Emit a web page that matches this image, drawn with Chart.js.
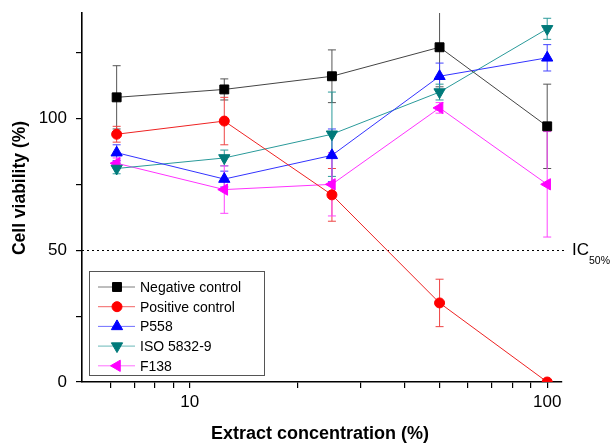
<!DOCTYPE html>
<html lang="en">
<head>
  <meta charset="UTF-8">
  <title>Cell viability</title>
  <script src="https://cdn.jsdelivr.net/npm/chart.js"></script>
  <style>
    html, body { margin: 0; padding: 0; background: #fff; }
    #wrap { width: 612px; height: 443px; }
  </style>
</head>
<body>
  <div id="wrap"><canvas id="viabilityChart"></canvas></div>
  <script>
    // extract concentration (%)
    const concentrations = [6.25, 12.5, 25, 50, 100];

    const negativeControl = [108, 111, 116, 127, 97];
    const negativeErr = [12, 4, 10, 15, 16];
    const positiveControl = [94, 99, 71, 30, 0];
    const positiveErr = [3, 9, 10, 9, 0];
    const p558 = [87, 77, 86, 116, 123];
    const p558Err = [3, 3, 10, 5, 5];
    const iso5832 = [81, 85, 94, 110, 134];
    const iso5832Err = [2, 3, 16, 3, 4];
    const f138 = [83, 73, 75, 104, 75];
    const f138Err = [2, 9, 12, 2, 20];

    const xTicks = [6, 7, 8, 9, 10, 20, 30, 40, 50, 60, 70, 80, 90, 100];
    const xLabels = [10, 100];
    const yTicks = [0, 25, 50, 75, 100, 125];
    const yLabels = [0, 50, 100];
    const icLevel = 50;

    const FONT = "'Liberation Sans', Arial, Helvetica, sans-serif";

    function series(label, values, errs, color, lineColor, errColor, style, rotation, radius) {
      return {
        label: label,
        data: concentrations.map((x, i) => ({ x: x, y: values[i] })),
        errs: errs,
        errColor: errColor,
        borderColor: lineColor,
        backgroundColor: color,
        pointBackgroundColor: color,
        pointBorderColor: color,
        pointStyle: style,
        rotation: rotation,
        pointRadius: radius,
        pointHoverRadius: radius,
        borderWidth: 1,
        tension: 0
      };
    }

    const datasets = [
      series('Negative control', negativeControl, negativeErr, '#000000', '#444444', '#555555', 'rect', 0, 6.3),
      series('Positive control', positiveControl, positiveErr, '#ff0000', '#ee2222', '#ee4444', 'circle', 0, 5),
      series('P558', p558, p558Err, '#0000ff', '#3333ff', '#4444ff', 'triangle', 0, 6.5),
      series('ISO 5832-9', iso5832, iso5832Err, '#007a7a', '#2a9a9a', '#2a9a9a', 'triangle', 180, 6.5),
      series('F138', f138, f138Err, '#ff00ff', '#ff33ff', '#ff44ff', 'triangle', -90, 6.5)
    ];

    // error bars, drawn under the markers
    const errorBars = {
      id: 'errorBars',
      beforeDatasetsDraw(chart) {
        const { ctx, chartArea, scales } = chart;
        ctx.save();
        ctx.beginPath();
        ctx.rect(chartArea.left - 10, chartArea.top, chartArea.right - chartArea.left + 20, chartArea.bottom - chartArea.top);
        ctx.clip();
        chart.data.datasets.forEach(ds => {
          ctx.strokeStyle = ds.errColor;
          ctx.lineWidth = 1;
          ds.data.forEach((p, i) => {
            const e = ds.errs[i];
            if (!e) return;
            const x = scales.x.getPixelForValue(p.x);
            const yTop = scales.y.getPixelForValue(p.y + e);
            const yBot = scales.y.getPixelForValue(p.y - e);
            ctx.beginPath();
            ctx.moveTo(x, yTop); ctx.lineTo(x, yBot);
            ctx.moveTo(x - 4, yTop); ctx.lineTo(x + 4, yTop);
            ctx.moveTo(x - 4, yBot); ctx.lineTo(x + 4, yBot);
            ctx.stroke();
          });
        });
        ctx.restore();
      }
    };

    // IC50 dotted line and label
    const icLine = {
      id: 'icLine',
      beforeDatasetsDraw(chart) {
        const { ctx, chartArea, scales } = chart;
        const y = Math.round(scales.y.getPixelForValue(icLevel)) + 0.5;
        ctx.save();
        ctx.strokeStyle = '#000';
        ctx.lineWidth = 1;
        ctx.setLineDash([2, 3]);
        ctx.beginPath();
        ctx.moveTo(chartArea.left, y);
        ctx.lineTo(chartArea.right + 4, y);
        ctx.stroke();
        ctx.setLineDash([]);
        ctx.fillStyle = '#000';
        ctx.textBaseline = 'middle';
        ctx.font = '17px ' + FONT;
        ctx.fillText('IC', chartArea.right + 10, y);
        const w = ctx.measureText('IC').width;
        ctx.font = '10.5px ' + FONT;
        ctx.fillText('50%', chartArea.right + 10 + w, y + 11);
        ctx.restore();
      }
    };

    // axis titles placed where the original has them
    const axisTitles = {
      id: 'axisTitles',
      afterDraw(chart) {
        const { ctx } = chart;
        ctx.save();
        ctx.fillStyle = '#000';
        ctx.textAlign = 'center';
        ctx.textBaseline = 'middle';
        ctx.font = 'bold 18px ' + FONT;
        ctx.fillText('Extract concentration (%)', 320, 434);
        ctx.translate(20, 188);
        ctx.rotate(-Math.PI / 2);
        ctx.font = 'bold 17.5px ' + FONT;
        ctx.fillText('Cell viability (%)', 0, 0);
        ctx.restore();
      }
    };

    // legend box inside the plot
    const boxLegend = {
      id: 'boxLegend',
      afterDraw(chart) {
        const { ctx } = chart;
        const left = 89, top = 271, width = 175, height = 104;
        ctx.save();
        ctx.fillStyle = '#fff';
        ctx.fillRect(left, top, width, height);
        ctx.strokeStyle = '#555';
        ctx.lineWidth = 1;
        ctx.strokeRect(left + 0.5, top + 0.5, width, height);
        ctx.font = '14px ' + FONT;
        ctx.textBaseline = 'middle';
        chart.data.datasets.forEach((ds, i) => {
          const y = top + 16 + i * 19.7;
          ctx.strokeStyle = ds.borderColor;
          ctx.globalAlpha = 0.7;
          ctx.beginPath();
          ctx.moveTo(left + 9, y); ctx.lineTo(left + 46, y);
          ctx.stroke();
          ctx.globalAlpha = 1;
          ctx.fillStyle = ds.pointBackgroundColor;
          ctx.strokeStyle = ds.pointBackgroundColor;
          Chart.helpers.drawPoint(ctx, {
            pointStyle: ds.pointStyle,
            rotation: ds.rotation,
            radius: ds.pointRadius,
            borderWidth: 1
          }, left + 28, y);
          ctx.fillStyle = '#000';
          ctx.fillText(ds.label, left + 51, y + 1);
        });
        ctx.restore();
      }
    };

    new Chart(document.getElementById('viabilityChart'), {
      type: 'line',
      data: { datasets: datasets },
      plugins: [icLine, errorBars, boxLegend, axisTitles],
      options: {
        responsive: true,
        maintainAspectRatio: false,
        animation: false,
        layout: { padding: { top: 13, right: 50, left: 0, bottom: 0 } },
        plugins: {
          legend: { display: false },
          tooltip: { enabled: false }
        },
        scales: {
          x: {
            type: 'logarithmic',
            min: 5,
            max: 110,
            afterBuildTicks: axis => { axis.ticks = xTicks.map(v => ({ value: v })); },
            afterFit: axis => { axis.height = 61; axis.paddingLeft = 0; axis.paddingRight = 0; },
            grid: { drawOnChartArea: false, drawTicks: true, tickLength: 6, color: '#000', lineWidth: 1.2 },
            border: { display: true, color: '#000', width: 1.6 },
            ticks: {
              autoSkip: false,
              maxRotation: 0,
              padding: 4,
              color: '#000',
              font: { family: FONT, size: 17 },
              callback: v => xLabels.includes(v) ? String(v) : ''
            }
          },
          y: {
            min: 0,
            max: 140,
            afterBuildTicks: axis => { axis.ticks = yTicks.map(v => ({ value: v })); },
            afterFit: axis => { axis.width = 82; axis.paddingTop = 0; axis.paddingBottom = 0; },
            grid: { drawOnChartArea: false, drawTicks: true, tickLength: 6, color: '#000', lineWidth: 1.2 },
            border: { display: true, color: '#000', width: 1.6 },
            ticks: {
              autoSkip: false,
              padding: 9,
              color: '#000',
              font: { family: FONT, size: 17 },
              callback: v => yLabels.includes(v) ? String(v) : ''
            }
          }
        }
      }
    });
  </script>
</body>
</html>
